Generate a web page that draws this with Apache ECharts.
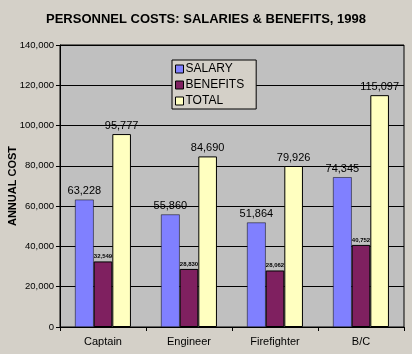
<!DOCTYPE html>
<html>
<head>
<meta charset="utf-8">
<script src="https://cdn.jsdelivr.net/npm/echarts@6/dist/echarts.min.js"></script>
<style>
  html, body { margin: 0; padding: 0; background: #d4d0c8; }
  #chart { width: 412px; height: 354px; }
</style>
</head>
<body>
<div id="chart"></div>
<script>
// 职位类别和三组数据
const categories = ['Captain', 'Engineer', 'Firefighter', 'B/C'];
const salary = [63228, 55860, 51864, 74345];
const benefits = [32549, 28830, 28062, 40752];
const total = [95777, 84690, 79926, 115097];

const fmt = v => v.toLocaleString('en-US');

const myChart = echarts.init(document.getElementById('chart'));

const bigLabel = {
    show: true,
    position: 'top',
    distance: 3,
    color: '#000',
    fontFamily: 'Arial',
    fontSize: 11,
    formatter: p => fmt(p.value)
};

myChart.setOption({
    backgroundColor: '#d4d0c8',
    animation: false,
    title: {
        text: 'PERSONNEL COSTS: SALARIES & BENEFITS, 1998',
        left: 'center',
        top: 8,
        textStyle: { fontFamily: 'Arial', fontWeight: 'bold', fontSize: 13, color: '#000' }
    },
    legend: {
        orient: 'vertical',
        left: 172,
        top: 60,
        padding: [3, 12, 2, 3],
        itemGap: 4,
        itemWidth: 8,
        itemHeight: 8,
        backgroundColor: '#d4d0c8',
        borderColor: '#000',
        borderWidth: 1,
        textStyle: { fontFamily: 'Liberation Sans Narrow, Arial Narrow, Arial', fontSize: 12, color: '#000', padding: [0, 0, 0, -3] },
        data: ['SALARY', 'BENEFITS', 'TOTAL'].map(n => ({ name: n, icon: 'rect', itemStyle: { borderColor: '#000', borderWidth: 1 } }))
    },
    grid: {
        left: 60,
        right: 8,
        top: 45,
        bottom: 27,
        outerBoundsMode: 'none',
        show: true,
        backgroundColor: '#c0c0c0',
        borderColor: '#000',
        borderWidth: 1
    },
    xAxis: {
        type: 'category',
        data: categories,
        axisLine: { lineStyle: { color: '#000' } },
        axisTick: { show: true, length: 4, lineStyle: { color: '#000' } },
        axisLabel: { color: '#000', fontFamily: 'Arial', fontSize: 11, margin: 9 }
    },
    yAxis: {
        type: 'value',
        min: 0,
        max: 140000,
        interval: 20000,
        name: 'ANNUAL COST',
        nameLocation: 'middle',
        nameGap: 42,
        nameMoveOverlap: false,
        nameTextStyle: { fontFamily: 'Arial', fontWeight: 'bold', fontSize: 11, color: '#000' },
        axisLine: { show: true, lineStyle: { color: '#000' } },
        axisTick: { show: true, length: 4, lineStyle: { color: '#000' } },
        axisLabel: { color: '#000', fontFamily: 'Arial', fontSize: 9.5, margin: 6, formatter: v => fmt(v) },
        splitLine: { lineStyle: { color: '#000', width: 1 } }
    },
    series: [
        {
            name: 'SALARY',
            type: 'bar',
            data: salary,
            barGap: '0%',
            barCategoryGap: '35%',
            itemStyle: { color: '#8080ff', borderColor: '#000', borderWidth: 0.5 },
            label: bigLabel
        },
        {
            name: 'BENEFITS',
            type: 'bar',
            data: benefits,
            itemStyle: { color: '#7f2060', borderColor: '#000', borderWidth: 1 },
            label: {
                show: true,
                position: 'top',
                distance: 2,
                color: '#000',
                fontFamily: 'Arial',
                fontWeight: 'bold',
                fontSize: 6,
                formatter: p => fmt(p.value)
            }
        },
        {
            name: 'TOTAL',
            type: 'bar',
            data: total,
            itemStyle: { color: '#ffffc0', borderColor: '#000', borderWidth: 1 },
            label: bigLabel
        }
    ]
});
</script>
</body>
</html>
